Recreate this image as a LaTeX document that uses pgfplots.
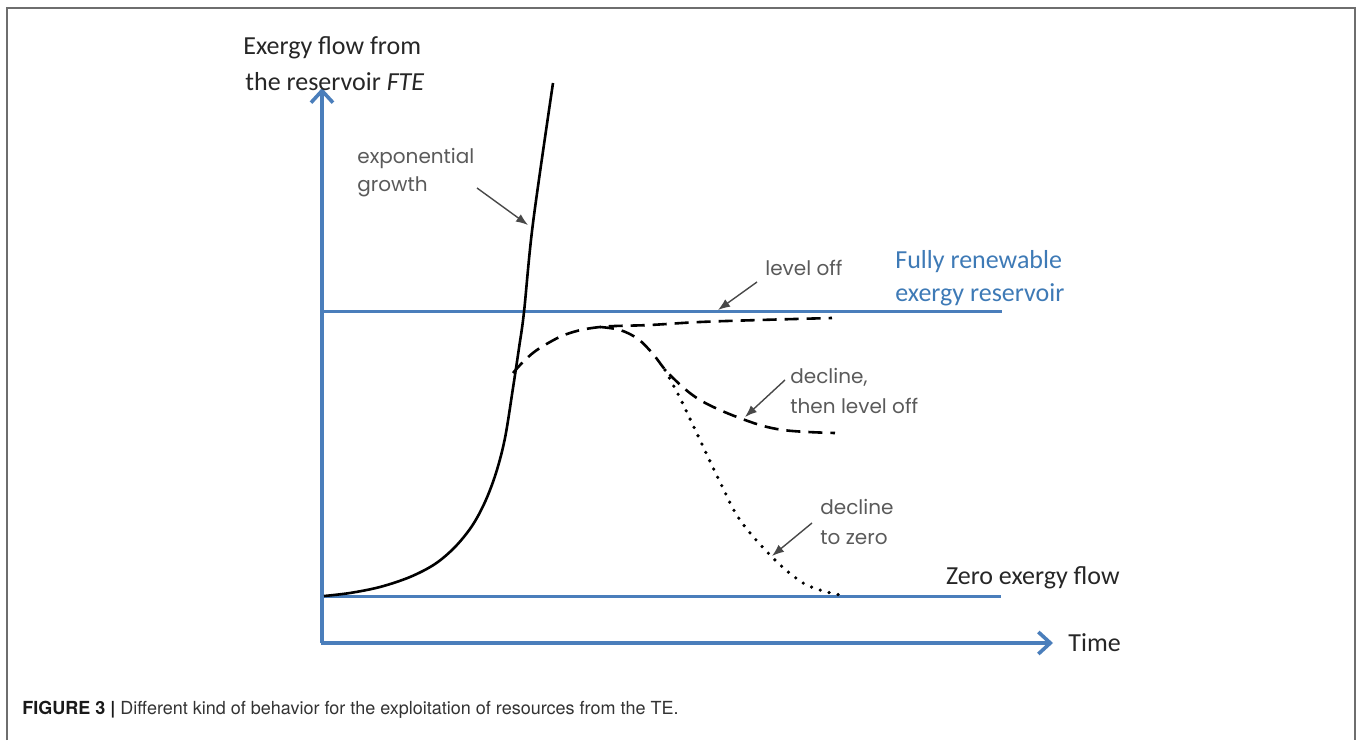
\documentclass[border=0pt]{standalone}
\usepackage{fontspec}
\setmainfont{Carlito}
\newfontfamily\lab{Poppins}
\newfontfamily\capf{TeX Gyre Heros}
\usepackage{pgfplots}
\pgfplotsset{compat=1.18}
\usetikzlibrary{arrows.meta}
\definecolor{axblue}{RGB}{74,126,187}
\definecolor{txblue}{RGB}{62,122,182}
\definecolor{labgray}{RGB}{90,90,90}
\definecolor{framegray}{RGB}{110,110,110}
\begin{document}
\begin{tikzpicture}
\begin{axis}[hide axis, scale only axis, width=678.5pt, height=370pt,
  xmin=0, xmax=1357, ymin=0, ymax=740, y dir=reverse, clip=false]
\path (axis cs:0,0) rectangle (axis cs:1357,740);
% frame
\addplot[framegray, line width=0.75pt] coordinates {(7,740) (7,8) (1355,8) (1355,740)};
% axes
\addplot[axblue, line width=2pt, -{Straight Barb[length=6pt,width=11pt,line width=1.8pt]}] coordinates {(322,643) (322,88)};
\addplot[axblue, line width=2pt, -{Straight Barb[length=6pt,width=11pt,line width=1.8pt]}] coordinates {(321,643) (1053,643)};
% reference lines
\addplot[axblue, line width=1.5pt] coordinates {(322,312) (1002,312)};
\addplot[axblue, line width=1.5pt] coordinates {(322,596) (1001,596)};
% exponential growth
\addplot[black, line width=1.3pt, smooth, tension=0.55] coordinates {
(324,596) (350,593) (380,587) (410,577) (435,564) (455,547) (472,526) (485,502)
(496,473) (505,438) (513,388) (519,348) (524,312) (533,223) (553,83)};
% level off (dashed)
\addplot[black, line width=1.3pt, dash pattern=on 7pt off 4pt, smooth, tension=0.6] coordinates {
(513,373) (525,360) (540,348) (567,334) (600,327) (650,325) (700,322) (760,320) (832,318)};
% decline then level off (dashed)
\addplot[black, line width=1.3pt, dash pattern=on 7pt off 4pt, smooth, tension=0.6] coordinates {
(600,327) (620,330) (638,339) (653,354) (670,375) (700,400) (745,420) (783,430) (835,433)};
% decline to zero (dotted)
\addplot[black, line width=1.8pt, line cap=round, dash pattern=on 0pt off 4.6pt, smooth, tension=0.6] coordinates {
(665,370) (680,398) (700,440) (720,482) (740,520) (772,557) (800,581) (820,590) (840,595)};
% annotation arrows
\draw[labgray!80!black, line width=0.7pt, -{Latex[length=6pt,width=4.5pt]}] (axis cs:477,188) -- (axis cs:528,225);
\draw[labgray!80!black, line width=0.7pt, -{Latex[length=6pt,width=4.5pt]}] (axis cs:757,282) -- (axis cs:718,310);
\draw[labgray!80!black, line width=0.7pt, -{Latex[length=6pt,width=4.5pt]}] (axis cs:785,380) -- (axis cs:745,417);
\draw[labgray!80!black, line width=0.7pt, -{Latex[length=6pt,width=4.5pt]}] (axis cs:812,523) -- (axis cs:772,556);
% texts
\begin{scope}[every node/.style={inner sep=0pt, anchor=west}]
\node[text=black!85] at (axis cs:243,48) {\fontsize{13}{15}\selectfont Exergy flow from};
\node[text=black!85] at (axis cs:245,82) {\fontsize{13}{15}\selectfont the reservoir \textit{FTE}};
\node[text=black!85] at (axis cs:1068,643) {\fontsize{13}{15}\selectfont Time};
\node[text=black!85, anchor=east] at (axis cs:1120,578) {\fontsize{13}{15}\selectfont Zero exergy flow};
\node[text=txblue] at (axis cs:895,262) {\fontsize{13}{15}\selectfont Fully renewable};
\node[text=txblue] at (axis cs:895,295) {\fontsize{13}{15}\selectfont exergy reservoir};
\node[text=labgray] at (axis cs:357,158) {\lab\fontsize{10}{12}\selectfont exponential};
\node[text=labgray] at (axis cs:357,187) {\lab\fontsize{10}{12}\selectfont growth};
\node[text=labgray] at (axis cs:765,268) {\lab\fontsize{10}{12}\selectfont level off};
\node[text=labgray] at (axis cs:790,377) {\lab\fontsize{10}{12}\selectfont decline,};
\node[text=labgray] at (axis cs:790,406) {\lab\fontsize{10}{12}\selectfont then level off};
\node[text=labgray] at (axis cs:820,507) {\lab\fontsize{10}{12}\selectfont decline};
\node[text=labgray] at (axis cs:820,538) {\lab\fontsize{10}{12}\selectfont to zero};
\node[anchor=base west] at (axis cs:22,714) {\capf\fontsize{9}{11}\selectfont\textcolor{black!90}{\textbf{FIGURE 3 |}} \textcolor{black!80}{Different kind of behavior for the exploitation of resources from the TE.}};
\end{scope}
\end{axis}
\end{tikzpicture}
\end{document}
